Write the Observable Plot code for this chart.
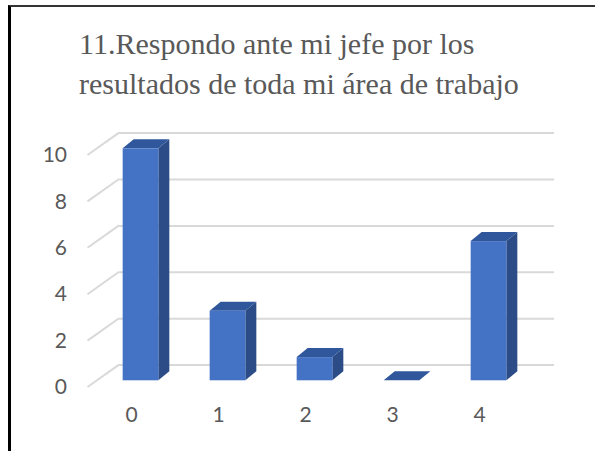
<!DOCTYPE html>
<html>
<head>
<meta charset="utf-8">
<script src="https://cdn.jsdelivr.net/npm/d3@7"></script>
<script src="https://cdn.jsdelivr.net/npm/@observablehq/plot@0.6"></script>
<style>
  body { margin: 0; background: #fff; width: 595px; height: 451px; overflow: hidden; position: relative; }
  #frame { position: absolute; left: 8px; top: 5px; width: 587px; height: 446px; border-left: 3px solid #000; border-top: 2px solid #333; box-sizing: border-box; }
  #title { position: absolute; left: 79px; top: 24px; font-family: "Liberation Serif", "Times New Roman", Times, "DejaVu Serif", serif; font-size: 30px; line-height: 40px; color: #595959; white-space: nowrap; }
  #chart { position: absolute; left: 0; top: 110px; }
  #chart svg text { font-size: 21px; font-family: Lato, sans-serif; }
</style>
</head>
<body>
<div id="frame"></div>
<div id="title">11.Respondo ante mi jefe por los<br>resultados de toda mi área de trabajo</div>
<div id="chart"></div>
<script>
// Answers per scale point and their counts
const categories = [0, 1, 2, 3, 4];
const counts = [10, 3, 1, 0, 6];
const yTicks = [0, 2, 4, 6, 8, 10];

const rows = categories.map((c, i) => ({cat: c, count: counts[i]}));

// Pseudo-3D projection (pixels): wall depth, bar offset and bar depth
const wall = {dx: 31.6, dy: -22.4};
const barShift = {dx: 9.5, dy: -6.7};
const barDepth = {dx: 11, dy: -9};
const halfWidth = 0.205;

const colors = {front: "#4472C4", side: "#2B4C87", top: "#30579C", grid: "#d9d9d9"};

// Floor/wall connectors at the left edge of the plot
function depthLines(index, scales, values, dims) {
  const g = d3.create("svg:g");
  g.selectAll("line").data(yTicks).join("line")
    .attr("x1", dims.marginLeft)
    .attr("y1", d => scales.y(d))
    .attr("x2", dims.marginLeft + wall.dx)
    .attr("y2", d => scales.y(d) + wall.dy)
    .attr("stroke", colors.grid)
    .attr("stroke-width", 2);
  return g.node();
}

// Side and top faces of each bar
function barFaces(index, scales) {
  const g = d3.create("svg:g");
  for (const d of rows) {
    const xl = scales.x(d.cat - halfWidth) + barShift.dx;
    const xr = scales.x(d.cat + halfWidth) + barShift.dx;
    const y0 = scales.y(0) + barShift.dy;
    const yv = scales.y(d.count) + barShift.dy;
    if (d.count > 0) {
      g.append("polygon")
        .attr("points", [[xr, y0], [xr, yv], [xr + barDepth.dx, yv + barDepth.dy], [xr + barDepth.dx, y0 + barDepth.dy]].join(" "))
        .attr("fill", colors.side);
    }
    g.append("polygon")
      .attr("points", [[xl, yv], [xr, yv], [xr + barDepth.dx, yv + barDepth.dy], [xl + barDepth.dx, yv + barDepth.dy]].join(" "))
      .attr("fill", colors.top);
  }
  return g.node();
}

const chart = Plot.plot({
  width: 595,
  height: 341,
  marginLeft: 87.5,
  marginRight: 72.5,
  marginTop: 45,
  marginBottom: 64,
  style: {fontFamily: "Lato, sans-serif", fontSize: "21px", color: "#595959", background: "transparent", overflow: "visible"},
  x: {type: "linear", domain: [-0.5, 4.5]},
  y: {domain: [0, 10]},
  marks: [
    Plot.ruleY(yTicks, {dx: wall.dx, dy: wall.dy, stroke: colors.grid, strokeWidth: 2}),
    depthLines,
    barFaces,
    Plot.rect(rows, {x1: d => d.cat - halfWidth, x2: d => d.cat + halfWidth, y1: 0, y2: "count", dx: barShift.dx, dy: barShift.dy, fill: colors.front}),
    Plot.axisY(yTicks, {tickSize: 0, tickPadding: 21, label: null}),
    Plot.axisX(categories, {tickSize: 0, tickPadding: 20, label: null, tickFormat: d => String(d)})
  ]
});
document.getElementById("chart").appendChild(chart);
</script>
</body>
</html>
